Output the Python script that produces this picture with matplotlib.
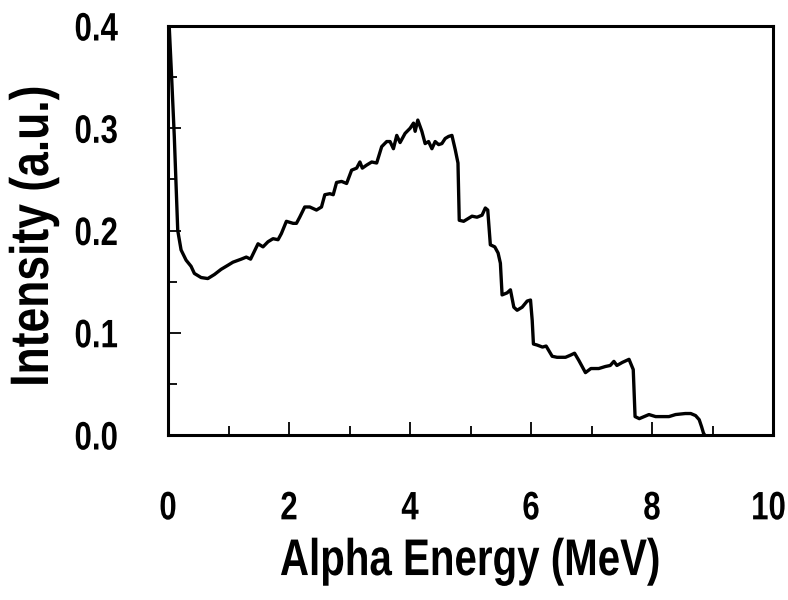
import matplotlib
matplotlib.use("Agg")
import matplotlib.pyplot as plt
from matplotlib.patheffects import AbstractPathEffect
from matplotlib.transforms import Affine2D, ScaledTranslation

plt.rcParams['font.family'] = ['Liberation Sans', 'DejaVu Sans']

energy = [0.02, 0.06, 0.104, 0.161, 0.216, 0.299, 0.381, 0.436, 0.547, 0.658, 0.768, 0.877, 0.990,
          1.073, 1.211, 1.294, 1.365, 1.488, 1.570, 1.653, 1.736, 1.819, 1.874, 1.957, 2.068,
          2.123, 2.177, 2.260, 2.343, 2.454, 2.537, 2.592, 2.675, 2.731, 2.786, 2.869, 2.952,
          3.035, 3.118, 3.172, 3.212, 3.284, 3.367, 3.449, 3.532, 3.615, 3.670, 3.726, 3.781,
          3.836, 3.919, 4.002, 4.058, 4.085, 4.129, 4.196, 4.250, 4.307, 4.362, 4.416, 4.473,
          4.527, 4.582, 4.638, 4.693, 4.748, 4.793, 4.814, 4.887, 4.970, 5.025, 5.108, 5.191,
          5.245, 5.285, 5.328, 5.401, 5.456, 5.494, 5.522, 5.605, 5.660, 5.716, 5.771, 5.854,
          5.937, 5.992, 6.020, 6.04, 6.10, 6.19, 6.25, 6.29, 6.35, 6.43, 6.57, 6.65, 6.72, 6.79,
          6.90, 6.99, 7.12, 7.23, 7.31, 7.37, 7.42, 7.51, 7.62, 7.69, 7.72, 7.79, 7.87, 7.95,
          8.06, 8.28, 8.39, 8.55, 8.64, 8.72, 8.78, 8.82, 8.85, 8.87]
intensity = [0.400, 0.350, 0.292, 0.200, 0.181, 0.171, 0.165, 0.158, 0.154, 0.153, 0.157, 0.162, 0.166,
             0.169, 0.172, 0.174, 0.172, 0.187, 0.184, 0.189, 0.192, 0.191, 0.197, 0.209, 0.207,
             0.207, 0.213, 0.223, 0.223, 0.220, 0.223, 0.235, 0.236, 0.235, 0.247, 0.248, 0.246,
             0.259, 0.261, 0.267, 0.261, 0.264, 0.267, 0.266, 0.282, 0.287, 0.287, 0.280, 0.293,
             0.286, 0.295, 0.300, 0.305, 0.297, 0.308, 0.297, 0.285, 0.287, 0.280, 0.287, 0.284,
             0.285, 0.290, 0.292, 0.293, 0.279, 0.266, 0.210, 0.209, 0.212, 0.214, 0.213, 0.215,
             0.222, 0.220, 0.186, 0.184, 0.178, 0.168, 0.137, 0.139, 0.142, 0.125, 0.122, 0.125,
             0.131, 0.132, 0.112, 0.089, 0.088, 0.086, 0.087, 0.083, 0.077, 0.076, 0.076, 0.078, 0.080, 0.073,
             0.061, 0.065, 0.065, 0.067, 0.068, 0.072, 0.068, 0.071, 0.074, 0.064, 0.018, 0.016, 0.018, 0.020,
             0.018, 0.018, 0.020, 0.021, 0.021, 0.019, 0.015, 0.008, 0.002, 0.000]

x_major = [0, 2, 4, 6, 8, 10]
x_major_labels = ["0", "2", "4", "6", "8", "10"]
x_minor = [1, 3, 5, 7, 9]
y_major = [0.0, 0.1, 0.2, 0.3, 0.4]
y_major_labels = ["0.0", "0.1", "0.2", "0.3", "0.4"]
y_minor = [0.05, 0.15, 0.25, 0.35]

x_label = "Alpha Energy (MeV)"
y_label = "Intensity (a.u.)"


class TallGlyphs(AbstractPathEffect):
    """Stretch glyphs perpendicular to the reading direction (mimics a narrow, tall font)."""
    def __init__(self, sy, cy=35.8):
        super().__init__()
        self.sy = sy
        self.cy = cy

    def draw_path(self, renderer, gc, tpath, affine, rgbFace=None):
        pre = Affine2D().translate(0, -self.cy).scale(1, self.sy).translate(0, self.cy)
        renderer.draw_path(gc, tpath, pre + affine, rgbFace)


fig = plt.figure(figsize=(7.88, 6.0), dpi=100)
ax = fig.add_axes([168/788, 1-435/600, (773-168)/788, (435-26)/600])
ax.plot(energy, intensity, color='black', lw=2.4, solid_joinstyle='round')

ax.set_xlim(0, 10)
ax.set_ylim(0, 0.4)
ax.set_xticks(x_major, x_major_labels)
ax.set_xticks(x_minor, minor=True)
ax.set_yticks(y_major, y_major_labels)
ax.set_yticks(y_minor, minor=True)

for s in ax.spines.values():
    s.set_linewidth(2.2)
ax.tick_params(which='both', direction='in', top=False, right=False, width=1.3)
ax.tick_params(which='major', length=9.5)
ax.tick_params(which='minor', length=6.5)
ax.tick_params(axis='y', which='major', pad=36)
ax.tick_params(axis='x', which='major', pad=42)
for lab in ax.get_xticklabels() + ax.get_yticklabels():
    lab.set_fontsize(22.5)
    lab.set_fontweight('bold')
    lab.set_path_effects([TallGlyphs(1.27)])

# the last x tick label sits a little left of the right spine, as in the reference
last = ax.xaxis.get_major_ticks()[len(x_major) - 1].label1
last.set_transform(last.get_transform() + ScaledTranslation(-0.045, 0, fig.dpi_scale_trans))

fig.text(470/788, 1-560/600, x_label, ha='center', va='center', fontsize=29, fontweight='bold',
         path_effects=[TallGlyphs(1.28)])
fig.text(33/788, 1-236/600, y_label, ha='center', va='center', rotation=90, fontsize=32,
         fontweight='bold', path_effects=[TallGlyphs(1.22)])

fig.savefig('out.png', dpi=100)
